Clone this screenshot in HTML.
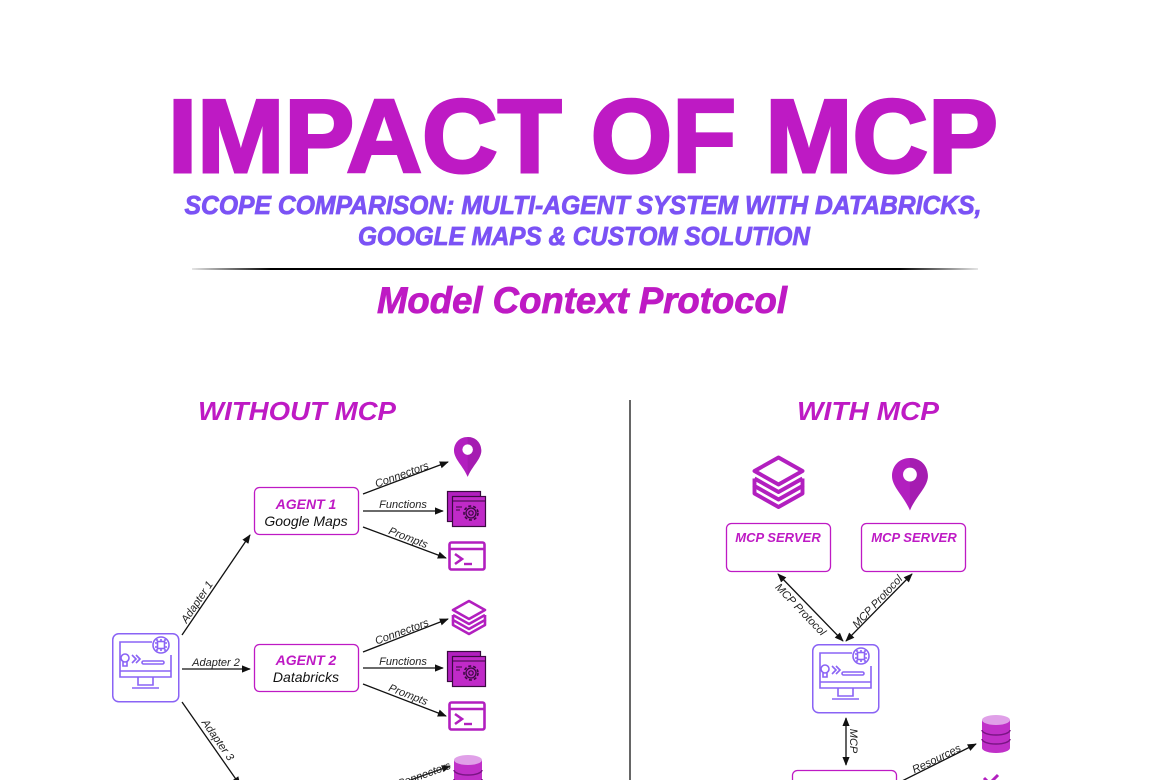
<!DOCTYPE html>
<html><head><meta charset="utf-8"><style>
html,body{margin:0;padding:0;background:#fff;}
svg{display:block;}
text{font-family:"Liberation Sans",sans-serif;}
</style></head><body>
<svg width="1170" height="780" viewBox="0 0 1170 780" xmlns="http://www.w3.org/2000/svg">
<defs>
<marker id="ar" viewBox="0 0 10 10" refX="9" refY="5" markerWidth="7" markerHeight="7" orient="auto-start-reverse"><path d="M0,1 L10,5 L0,9 z" fill="#111"/></marker>
<linearGradient id="dl" x1="0" x2="1"><stop offset="0" stop-color="#000" stop-opacity="0.1"/><stop offset="0.1" stop-color="#000"/><stop offset="0.9" stop-color="#000"/><stop offset="1" stop-color="#000" stop-opacity="0.1"/></linearGradient>
<g id="comp">
 <rect x="0.75" y="0.75" width="66" height="68" rx="6" fill="#fff" stroke="#8a63f5" stroke-width="1.5"/>
 <g fill="none" stroke="#8a63f5" stroke-width="1.6">
  <path d="M40,9 H8 V44 H59 V22"/>
  <line x1="8" y1="38" x2="59" y2="38"/>
  <path d="M26,44 V52 H41 V44"/><line x1="20" y1="55" x2="47" y2="55"/>
  <circle cx="49" cy="12" r="8"/><rect x="45.5" y="8.5" width="7" height="7"/>
  <path d="M45,6v2M49,6v2M53,6v2M45,16v2M49,16v2M53,16v2M43,10h2M43,14h2M53,10h2M53,14h2"/>
  <circle cx="13" cy="25" r="4"/><path d="M11,29v4h4v-4"/>
  <path d="M20,22l4,4l-4,4M24,22l4,4l-4,4"/>
  <rect x="30" y="28" width="22" height="3" rx="1.5"/>
 </g>
</g>
<g id="gear">
 <rect x="0.5" y="0.5" width="33" height="30" fill="#b21fbf" stroke="#3a0a40" stroke-width="1.2"/>
 <rect x="5.5" y="5.5" width="33" height="30" fill="#c02ac8" stroke="#3a0a40" stroke-width="1.2"/>
 <line x1="5.5" y1="10" x2="38.5" y2="10" stroke="#3a0a40"/>
 <circle cx="24" cy="22" r="7" fill="none" stroke="#3a0a40" stroke-width="1.6" stroke-dasharray="3 2"/>
 <circle cx="24" cy="22" r="5" fill="none" stroke="#3a0a40" stroke-width="1.3"/>
 <circle cx="24" cy="22" r="2.2" fill="none" stroke="#3a0a40" stroke-width="1.2"/>
 <path d="M9,16h6M9,19h4" stroke="#3a0a40"/>
</g>
<g id="term">
 <rect x="1.5" y="1.5" width="35" height="27" rx="2" fill="#fff" stroke="#b21fbf" stroke-width="2.6"/>
 <line x1="1.5" y1="8" x2="36.5" y2="8" stroke="#b21fbf" stroke-width="2.4"/>
 <path d="M7,13 l7,5 l-7,5" fill="none" stroke="#b21fbf" stroke-width="2.6"/>
 <line x1="16" y1="23" x2="24" y2="23" stroke="#b21fbf" stroke-width="2.4"/>
</g>
<g id="pin">
 <path d="M13,0 C5,0 0,6 0,13 C0,21 9,28 13,38 C17,28 26,21 26,13 C26,6 21,0 13,0 Z" fill="#b21fbf"/>
 <path d="M13,0 C21,0 26,6 26,13 C26,21 17,28 13,38 Z" fill="#9c1aa8" opacity="0.6"/>
 <circle cx="13" cy="12" r="5" fill="#fff"/>
</g>
<g id="layers" fill="none" stroke="#b21fbf" stroke-width="2.6" stroke-linejoin="round">
 <path d="M17,1 L33,10 L17,19 L1,10 Z"/>
 <path d="M1,15 L17,24 L33,15"/>
 <path d="M1,15 V20 L17,29 L33,20 V15"/>
 <path d="M1,20 V25 L17,34 L33,25 V20"/>
</g>
<g id="db">
 <path d="M0,6 V34 A14,5 0 0 0 28,34 V6 Z" fill="#c030c8"/>
 <ellipse cx="14" cy="6" rx="14" ry="5" fill="#e0a0e8"/>
 <path d="M0,16 A14,5 0 0 0 28,16 M0,25 A14,5 0 0 0 28,25" fill="none" stroke="#7a1585" stroke-width="1.5"/>
</g>
</defs>

<!-- Header -->
<text x="583" y="172" text-anchor="middle" font-size="104" font-weight="bold" fill="#be1ac4" stroke="#be1ac4" stroke-width="3" textLength="830" lengthAdjust="spacingAndGlyphs">IMPACT OF MCP</text>
<text x="583" y="214" text-anchor="middle" font-size="26" font-weight="bold" font-style="italic" fill="#7b52f5" stroke="#7b52f5" stroke-width="0.8" textLength="797" lengthAdjust="spacingAndGlyphs">SCOPE COMPARISON: MULTI-AGENT SYSTEM WITH DATABRICKS,</text>
<text x="584" y="245" text-anchor="middle" font-size="26" font-weight="bold" font-style="italic" fill="#7b52f5" stroke="#7b52f5" stroke-width="0.8" textLength="452" lengthAdjust="spacingAndGlyphs">GOOGLE MAPS &amp; CUSTOM SOLUTION</text>
<rect x="192" y="268" width="786" height="2" fill="url(#dl)"/>
<text x="582" y="313" text-anchor="middle" font-size="37" font-weight="bold" font-style="italic" fill="#be1ac4" stroke="#be1ac4" stroke-width="0.8" textLength="410" lengthAdjust="spacingAndGlyphs">Model Context Protocol</text>

<text x="297" y="420" text-anchor="middle" font-size="26" font-weight="bold" font-style="italic" fill="#be1ac4" textLength="198" lengthAdjust="spacingAndGlyphs">WITHOUT MCP</text>
<text x="868" y="420" text-anchor="middle" font-size="26" font-weight="bold" font-style="italic" fill="#be1ac4" textLength="142" lengthAdjust="spacingAndGlyphs">WITH MCP</text>
<line x1="630" y1="400" x2="630" y2="780" stroke="#666" stroke-width="2"/>

<!-- Left -->
<use href="#comp" x="112" y="633"/>
<g stroke="#111" stroke-width="1.3" fill="none" marker-end="url(#ar)">
 <line x1="182" y1="635" x2="250" y2="535"/>
 <line x1="182" y1="669" x2="250" y2="669"/>
 <line x1="182" y1="702" x2="240" y2="785"/>
 <line x1="363" y1="494" x2="448" y2="462"/>
 <line x1="363" y1="511" x2="443" y2="511"/>
 <line x1="363" y1="527" x2="446" y2="558"/>
 <line x1="363" y1="652" x2="448" y2="619"/>
 <line x1="363" y1="668" x2="443" y2="668"/>
 <line x1="363" y1="684" x2="446" y2="716"/>
 <line x1="405" y1="782" x2="450" y2="766"/>
</g>
<g font-size="11" font-style="italic" fill="#222">
 <text transform="translate(200,604) rotate(-56)" text-anchor="middle">Adapter 1</text>
 <text x="216" y="666" text-anchor="middle">Adapter 2</text>
 <text transform="translate(215,742) rotate(55)" text-anchor="middle">Adapter 3</text>
 <text transform="translate(403,478) rotate(-20)" text-anchor="middle">Connectors</text>
 <text x="403" y="508" text-anchor="middle">Functions</text>
 <text transform="translate(407,541) rotate(21)" text-anchor="middle">Prompts</text>
 <text transform="translate(403,635) rotate(-20)" text-anchor="middle">Connectors</text>
 <text x="403" y="665" text-anchor="middle">Functions</text>
 <text transform="translate(407,698) rotate(21)" text-anchor="middle">Prompts</text>
 <text transform="translate(425,778) rotate(-20)" text-anchor="middle">Connectors</text>
</g>
<rect x="254.5" y="487.5" width="104" height="47" rx="5" fill="#fff" stroke="#be1ac4" stroke-width="1.3"/>
<text x="306" y="509" text-anchor="middle" font-size="14" font-weight="bold" font-style="italic" fill="#be1ac4">AGENT 1</text>
<text x="306" y="526" text-anchor="middle" font-size="14" font-style="italic" fill="#111">Google Maps</text>
<rect x="254.5" y="644.5" width="104" height="47" rx="5" fill="#fff" stroke="#be1ac4" stroke-width="1.3"/>
<text x="306" y="665" text-anchor="middle" font-size="14" font-weight="bold" font-style="italic" fill="#be1ac4">AGENT 2</text>
<text x="306" y="682" text-anchor="middle" font-size="14" font-style="italic" fill="#111">Databricks</text>
<g transform="translate(454,437) scale(1.05)"><use href="#pin"/></g>
<use href="#gear" x="447" y="491"/>
<use href="#term" x="448" y="541"/>
<use href="#layers" x="452" y="600"/>
<use href="#gear" x="447" y="651"/>
<use href="#term" x="448" y="701"/>
<use href="#db" x="454" y="754"/>

<!-- Right -->
<g transform="translate(753,456) scale(1.5)"><use href="#layers"/></g>
<g transform="translate(892,458) scale(1.38)"><use href="#pin"/></g>
<rect x="726.5" y="523.5" width="104" height="48" rx="5" fill="#fff" stroke="#be1ac4" stroke-width="1.3"/>
<text x="778" y="542" text-anchor="middle" font-size="13" font-weight="bold" font-style="italic" fill="#be1ac4">MCP SERVER</text>
<rect x="861.5" y="523.5" width="104" height="48" rx="5" fill="#fff" stroke="#be1ac4" stroke-width="1.3"/>
<text x="914" y="542" text-anchor="middle" font-size="13" font-weight="bold" font-style="italic" fill="#be1ac4">MCP SERVER</text>
<g stroke="#111" stroke-width="1.3" fill="none" marker-end="url(#ar)" marker-start="url(#ar)">
 <line x1="778" y1="574" x2="843" y2="641"/>
 <line x1="912" y1="574" x2="846" y2="641"/>
 <line x1="846" y1="718" x2="846" y2="765"/>
</g>
<line x1="900" y1="782" x2="976" y2="744" stroke="#111" stroke-width="1.3" marker-end="url(#ar)"/>
<g font-size="11" font-style="italic" fill="#222">
 <text transform="translate(798,612) rotate(46)" text-anchor="middle">MCP Protocol</text>
 <text transform="translate(880,604) rotate(-47)" text-anchor="middle">MCP Protocol</text>
 <text transform="translate(850,741) rotate(90)" text-anchor="middle">MCP</text>
 <text transform="translate(938,762) rotate(-26)" text-anchor="middle">Resources</text>
</g>
<use href="#comp" x="812" y="644"/>
<rect x="792.5" y="770.5" width="104" height="30" rx="5" fill="#fff" stroke="#be1ac4" stroke-width="1.3"/>
<use href="#db" x="982" y="714"/>
<path d="M984,778 L990,784 M998,775 L992,781" stroke="#b21fbf" stroke-width="3"/>
</svg>
</body></html>
